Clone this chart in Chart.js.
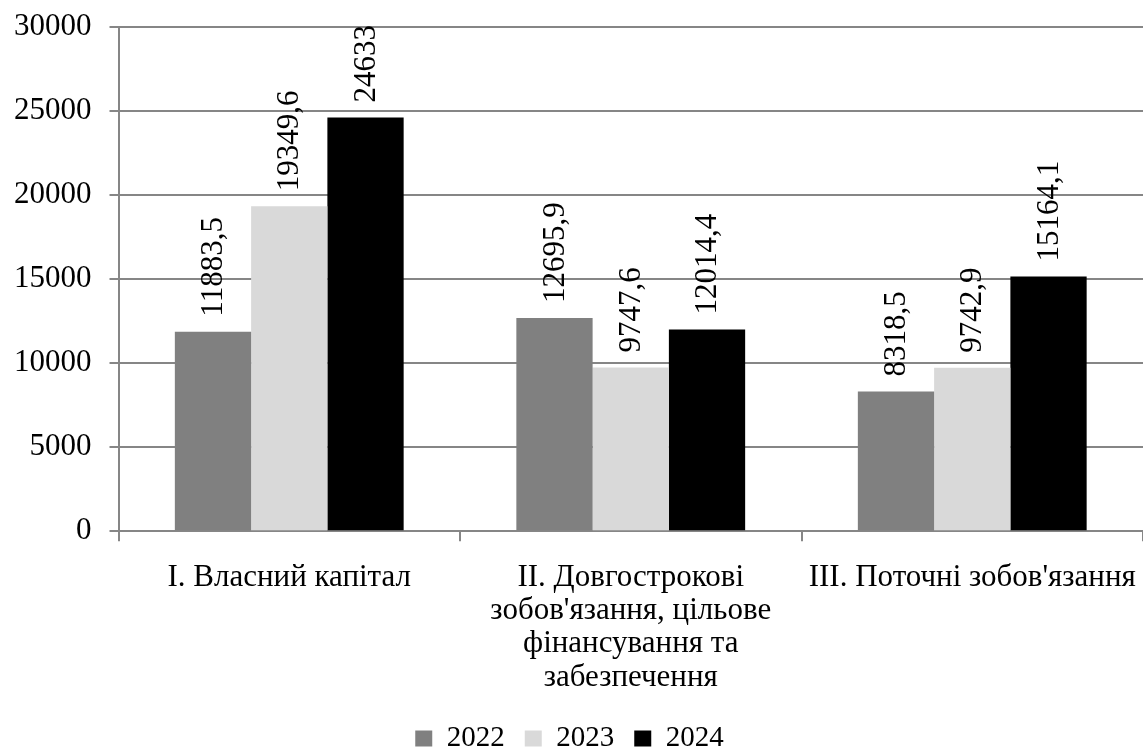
<!DOCTYPE html>
<html>
<head>
<meta charset="utf-8">
<script src="https://cdn.jsdelivr.net/npm/chart.js@4"></script>
<style>
  body { margin: 0; background: #fff; }
  #wrap { width: 1143px; height: 749px; position: relative; }
</style>
</head>
<body>
<div id="wrap"><canvas id="chart"></canvas></div>
<script>
const categories = [
  'I. Власний капітал',
  ['II. Довгострокові', "зобов'язання, цільове", 'фінансування та', 'забезпечення'],
  "III. Поточні зобов'язання"
];
const years = ['2022', '2023', '2024'];
const values2022 = [11883.5, 12695.9, 8318.5];
const values2023 = [19349.6, 9747.6, 9742.9];
const values2024 = [24633, 12014.4, 15164.1];
const yTicks = [0, 5000, 10000, 15000, 20000, 25000, 30000];

const colors = ['#808080', '#d9d9d9', '#000000'];
const FONT = "'Liberation Serif', 'Times New Roman', serif";

// value labels standing upright above each bar
const barLabels = {
  id: 'barLabels',
  afterDatasetsDraw(chart) {
    const ctx = chart.ctx;
    ctx.save();
    ctx.font = '31px ' + FONT;
    ctx.fillStyle = '#000';
    ctx.textAlign = 'left';
    ctx.textBaseline = 'middle';
    chart.data.datasets.forEach((ds, i) => {
      chart.getDatasetMeta(i).data.forEach((bar, j) => {
        const txt = String(ds.data[j]).replace('.', ',');
        ctx.save();
        ctx.translate(bar.x + 1, bar.y - 15);
        ctx.rotate(-Math.PI / 2);
        ctx.fillText(txt, 0, 0);
        ctx.restore();
      });
    });
    ctx.restore();
  }
};

new Chart(document.getElementById('chart'), {
  type: 'bar',
  data: {
    labels: categories,
    datasets: [values2022, values2023, values2024].map((d, i) => ({
      label: years[i],
      data: d,
      backgroundColor: colors[i],
      borderWidth: 0,
      categoryPercentage: 0.67,
      barPercentage: 1
    }))
  },
  options: {
    responsive: true,
    maintainAspectRatio: false,
    animation: false,
    layout: { padding: { top: 0, right: 0, left: -4, bottom: -14 } },
    plugins: {
      tooltip: { enabled: false },
      legend: {
        position: 'bottom',
        labels: {
          font: { family: FONT, size: 29 },
          color: '#000',
          boxWidth: 17,
          boxHeight: 16,
          padding: 20
        }
      }
    },
    scales: {
      x: {
        grid: {
          offset: true,
          drawOnChartArea: false,
          color: '#868686',
          lineWidth: 2,
          tickLength: 10
        },
        border: { color: '#868686', width: 2 },
        ticks: {
          font: { family: FONT, size: 31, lineHeight: 1.07 },
          color: '#000',
          maxRotation: 0,
          autoSkip: false,
          padding: 20
        },
        afterFit(scale) {
          // let the plot run to the right edge and sit a bit lower
          scale.paddingRight = 0;
          scale.height -= 10;
        }
      },
      y: {
        min: 0,
        max: 30000,
        afterBuildTicks(scale) { scale.ticks = yTicks.map(v => ({ value: v })); },
        grid: { color: '#868686', lineWidth: 2, tickLength: 9 },
        border: { color: '#868686', width: 2 },
        ticks: {
          font: { family: FONT, size: 31, lineHeight: 0.6 },
          color: '#000',
          padding: 18,
          callback: v => String(v)
        }
      }
    }
  },
  plugins: [barLabels]
});
</script>
</body>
</html>
